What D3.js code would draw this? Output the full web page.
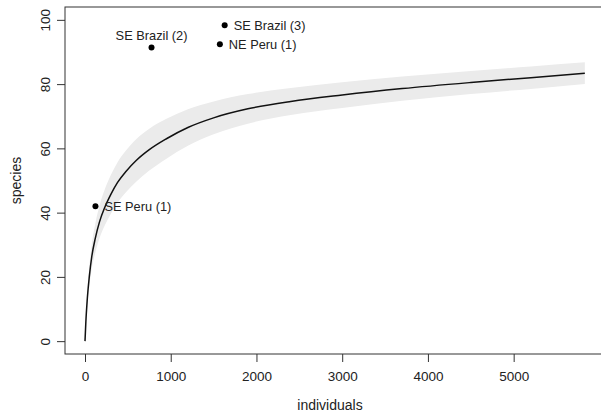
<!DOCTYPE html>
<html>
<head>
<meta charset="utf-8">
<script src="https://cdn.jsdelivr.net/npm/d3@7"></script>
<style>
  body { margin: 0; background: #fff; }
  text { font-family: "Liberation Sans", Arial, sans-serif; fill: #222; }
</style>
</head>
<body>
<div id="chart"></div>
<script>
// rarefaction curve
const individuals = [0, 10, 25, 50, 80, 120, 170, 230, 300, 380, 480, 600, 750, 950, 1200, 1500, 1900, 2400, 3000, 3700, 4500, 5200, 5830]
const species = [0, 6, 12.5, 20, 26.5, 32, 37.2, 41.6, 45.6, 49.4, 52.9, 56.3, 59.6, 63.0, 66.5, 69.5, 72.3, 74.6, 76.6, 78.6, 80.5, 82, 83.4]
const lower = [0, 5, 10.5, 17, 22.7, 27.5, 32.1, 36, 39.6, 43.1, 46.4, 49.7, 53.1, 56.8, 60.8, 64.4, 67.7, 70.4, 72.6, 74.8, 76.9, 78.5, 80]
const upper = [0, 7, 14.5, 23, 30.3, 36.5, 42.3, 47.2, 51.6, 55.7, 59.4, 62.9, 66.1, 69.2, 72.2, 74.6, 76.9, 78.8, 80.6, 82.4, 84.1, 85.5, 86.8]

// sampled sites
const siteNames = ["SE Peru (1)", "SE Brazil (2)", "NE Peru (1)", "SE Brazil (3)"]
const siteIndividuals = [122, 776, 1573, 1629]
const siteSpecies = [42, 91.4, 92.4, 98.3]
const sitePos = ["right", "above", "right", "right"]

const xTicks = [0, 1000, 2000, 3000, 4000, 5000]
const yTicks = [0, 20, 40, 60, 80, 100]

const width = 601
const height = 416
const box = { left: 65, right: 605, top: 7, bottom: 354 }

const xlim = [0, 5832]
const ylim = [0, 100]
const xpad = 0.04 * (xlim[1] - xlim[0])
const ypad = 0.04 * (ylim[1] - ylim[0])

const x = d3.scaleLinear()
            .domain([xlim[0] - xpad, xlim[1] + xpad])
            .range([box.left, box.right])

const y = d3.scaleLinear()
            .domain([ylim[0] - ypad, ylim[1] + ypad])
            .range([box.bottom, box.top])

const svg = d3.select("#chart")
              .append("svg")
              .attr("width", width)
              .attr("height", height)

const curve = individuals.map((d, i) => ({ x: d, y: species[i], lo: lower[i], hi: upper[i] }))

// confidence band
const band = d3.area()
               .x(d => x(d.x))
               .y0(d => y(d.lo))
               .y1(d => y(d.hi))
               .curve(d3.curveMonotoneX)

svg.append("path")
   .datum(curve)
   .attr("d", band)
   .attr("fill", "#ebebeb")

const line = d3.line()
               .x(d => x(d.x))
               .y(d => y(d.y))
               .curve(d3.curveMonotoneX)

svg.append("path")
   .datum(curve)
   .attr("d", line)
   .attr("fill", "none")
   .attr("stroke", "#111")
   .attr("stroke-width", 1.5)

// plot frame
svg.append("rect")
   .attr("x", box.left)
   .attr("y", box.top)
   .attr("width", box.right - box.left)
   .attr("height", box.bottom - box.top)
   .attr("fill", "none")
   .attr("stroke", "#333")
   .attr("stroke-width", 1)

// axes
const xAxis = d3.axisBottom(x).tickValues(xTicks).tickSize(8).tickPadding(9).tickFormat(d3.format("d"))
const yAxis = d3.axisLeft(y).tickValues(yTicks).tickSize(8).tickPadding(6).tickFormat(d3.format("d"))

const gx = svg.append("g")
              .attr("class", "x-axis")
              .attr("transform", `translate(0, ${box.bottom})`)
              .call(xAxis)
gx.select(".domain").remove()
gx.selectAll("line").attr("stroke", "#333")
gx.selectAll("text").attr("font-size", 13.5).style("fill", "#222")

const gy = svg.append("g")
              .attr("class", "y-axis")
              .attr("transform", `translate(${box.left}, 0)`)
              .call(yAxis)
gy.select(".domain").remove()
gy.selectAll("line").attr("stroke", "#333")
gy.selectAll("text")
  .attr("font-size", 13.5)
  .style("fill", "#222")
  .attr("text-anchor", "middle")
  .attr("dy", 0)
  .attr("x", 0)
  .attr("transform", "translate(-15, 0) rotate(-90)")

svg.append("text")
   .attr("x", (x(xlim[0]) + x(xlim[1])) / 2 - 5)
   .attr("y", 410)
   .attr("text-anchor", "middle")
   .attr("font-size", 14)
   .text("individuals")

svg.append("text")
   .attr("transform", `translate(21, ${(y(ylim[0]) + y(ylim[1])) / 2}) rotate(-90)`)
   .attr("text-anchor", "middle")
   .attr("font-size", 14)
   .text("species")

// sites
const sites = siteNames.map((d, i) => ({ name: d, x: siteIndividuals[i], y: siteSpecies[i], pos: sitePos[i] }))

svg.append("g")
   .selectAll(".site")
   .data(sites)
   .enter()
   .append("circle")
   .attr("class", "site")
   .attr("r", 3)
   .attr("cx", d => x(d.x))
   .attr("cy", d => y(d.y))
   .attr("fill", "#000")

svg.append("g")
   .selectAll(".site-label")
   .data(sites)
   .enter()
   .append("text")
   .attr("class", "site-label")
   .attr("font-size", 12.8)
   .attr("x", d => d.pos === "above" ? x(d.x) : x(d.x) + 9)
   .attr("y", d => d.pos === "above" ? y(d.y) - 7 : y(d.y) + 4.5)
   .attr("text-anchor", d => d.pos === "above" ? "middle" : "start")
   .text(d => d.name)
</script>
</body>
</html>
